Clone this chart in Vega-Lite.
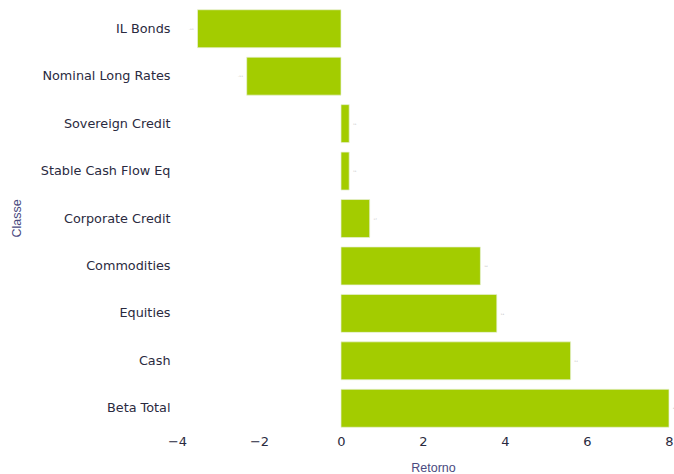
{
  "$schema": "https://vega.github.io/schema/vega-lite/v6.json",
  "autosize": "none",
  "width": 492,
  "height": 427,
  "padding": {"left": 177, "top": 5, "right": 5, "bottom": 42},
  "background": "white",
  "config": {"view": {"stroke": null}, "font": "DejaVu Sans"},
  "data": {"values": [
    {"Classe": "IL Bonds", "Retorno": -3.5},
    {"Classe": "Nominal Long Rates", "Retorno": -2.3},
    {"Classe": "Sovereign Credit", "Retorno": 0.2},
    {"Classe": "Stable Cash Flow Eq", "Retorno": 0.2},
    {"Classe": "Corporate Credit", "Retorno": 0.7},
    {"Classe": "Commodities", "Retorno": 3.4},
    {"Classe": "Equities", "Retorno": 3.8},
    {"Classe": "Cash", "Retorno": 5.6},
    {"Classe": "Beta Total", "Retorno": 8.0}
  ]},
  "encoding": {
    "y": {"field": "Classe", "type": "nominal", "sort": null,
      "scale": {"paddingInner": 0.2, "paddingOuter": 0.1},
      "axis": {"title": "Classe", "domain": false, "ticks": false, "labelPadding": 7,
        "labelFont": "DejaVu Sans", "labelFontSize": 12.8, "labelColor": "#2a2a40", "titleFont": "Liberation Sans", "titleFontSize": 12.5, "titleFontWeight": "normal",
        "titleColor": "#4a4a80", "titleX": -161, "titleY": 213, "titleAngle": -90, "titleAlign": "center", "titleBaseline": "middle"}},
    "x": {"field": "Retorno", "type": "quantitative",
      "scale": {"domain": [-4, 8], "nice": false, "zero": false},
      "axis": {"title": "Retorno", "grid": false, "domain": false, "ticks": false, "values": [-4,-2,0,2,4,6,8],
        "labelOverlap": false, "labelFlush": false,
        "labelPadding": 3, "labelFont": "DejaVu Sans", "labelFontSize": 13, "labelColor": "#2a2a40", "titleFont": "Liberation Sans", "titleFontSize": 12.5, "titleFontWeight": "normal",
        "titleColor": "#4a4a80", "titlePadding": 13, "titleX": 256, "titleAlign": "center"}}
  },
  "layer": [
    {"mark": {"type": "bar", "color": "#a3cc00", "stroke": "#e8f0d8", "strokeWidth": 0.7}},
    {"mark": {"type": "text", "fontSize": 2, "color": "#aaaaaa",
      "align": {"expr": "datum.Retorno < 0 ? 'right' : 'left'"},
      "dx": {"expr": "datum.Retorno < 0 ? -4 : 4"}},
     "encoding": {"text": {"field": "Retorno", "type": "quantitative"}}}
  ]
}
